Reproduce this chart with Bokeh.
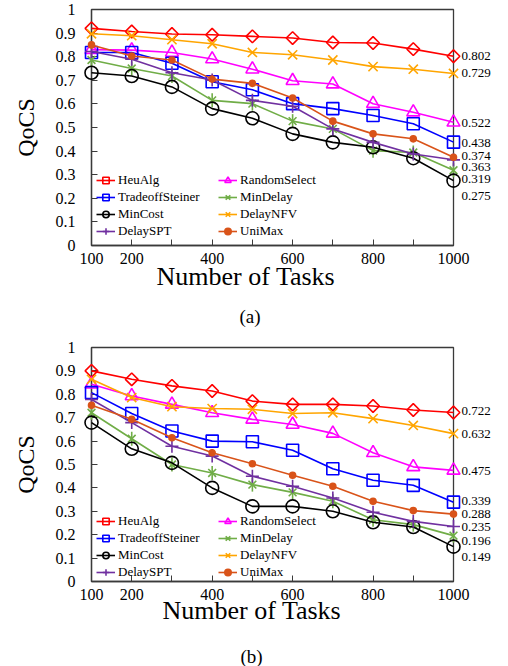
import math
from bokeh.plotting import figure
from bokeh.models import (Range1d, LinearAxis, FixedTicker, Legend, LegendItem, Title)
from bokeh.layouts import column
from bokeh.embed import file_html
from bokeh.resources import INLINE

# ---------------- data ----------------
tasks = [100, 200, 300, 400, 500, 600, 700, 800, 900, 1000]
x_tick_labels = ["100", "200", "", "400", "", "600", "", "800", "", "1000"]
y_ticks = [0, 0.1, 0.2, 0.3, 0.4, 0.5, 0.6, 0.7, 0.8, 0.9, 1]
y_tick_labels = ["0", "0.1", "0.2", "0.3", "0.4", "0.5", "0.6", "0.7", "0.8", "0.9", "1"]

algorithms = ["HeuAlg", "RandomSelect", "TradeoffSteiner", "MinDelay",
              "MinCost", "DelayNFV", "DelaySPT", "UniMax"]

# (a)
heu_a = [0.920, 0.907, 0.896, 0.893, 0.886, 0.879, 0.860, 0.858, 0.832, 0.802]
rand_a = [0.830, 0.828, 0.818, 0.790, 0.747, 0.698, 0.684, 0.601, 0.565, 0.522]
trade_a = [0.818, 0.818, 0.772, 0.694, 0.660, 0.601, 0.580, 0.551, 0.516, 0.438]
mindelay_a = [0.786, 0.750, 0.718, 0.615, 0.601, 0.527, 0.494, 0.402, 0.394, 0.319]
mincost_a = [0.732, 0.718, 0.672, 0.580, 0.539, 0.473, 0.437, 0.416, 0.370, 0.275]
nfv_a = [0.897, 0.889, 0.872, 0.855, 0.818, 0.808, 0.786, 0.758, 0.747, 0.729]
spt_a = [0.822, 0.789, 0.732, 0.701, 0.615, 0.590, 0.494, 0.437, 0.388, 0.363]
unimax_a = [0.850, 0.803, 0.786, 0.705, 0.687, 0.625, 0.527, 0.473, 0.452, 0.374]

# (b)
heu_b = [0.900, 0.864, 0.836, 0.814, 0.771, 0.757, 0.757, 0.750, 0.733, 0.722]
rand_b = [0.843, 0.793, 0.757, 0.721, 0.693, 0.671, 0.633, 0.550, 0.490, 0.475]
trade_b = [0.807, 0.718, 0.643, 0.600, 0.597, 0.561, 0.482, 0.433, 0.411, 0.339]
mindelay_b = [0.721, 0.610, 0.500, 0.464, 0.414, 0.381, 0.343, 0.264, 0.243, 0.196]
mincost_b = [0.679, 0.567, 0.507, 0.400, 0.321, 0.321, 0.300, 0.253, 0.233, 0.149]
nfv_b = [0.864, 0.786, 0.747, 0.739, 0.736, 0.718, 0.721, 0.696, 0.667, 0.632]
spt_b = [0.778, 0.679, 0.578, 0.536, 0.450, 0.407, 0.357, 0.296, 0.257, 0.235]
unimax_b = [0.753, 0.693, 0.614, 0.550, 0.503, 0.454, 0.407, 0.343, 0.303, 0.288]

# end-value annotations: which series, and small vertical nudges (px, up) to avoid overlap
end_label_order = ["HeuAlg", "DelayNFV", "RandomSelect", "TradeoffSteiner",
                   "UniMax", "DelaySPT", "MinDelay", "MinCost"]
end_nudge_a = [0, 0, -1, -1, 1.5, -7.5, -9, -15]
end_nudge_b = [2, 0, -1, 1, 0, 0, -5, -10]

# ---------------- styles ----------------
FONT = "Liberation Serif"
# each algorithm: colour and a list of (marker, size, angle, filled) layers
styles = {
    "HeuAlg":          ("#FF0000", [("square", 9, math.pi / 4, False)]),
    "RandomSelect":    ("#FF00FF", [("triangle", 13, 0, False)]),
    "TradeoffSteiner": ("#0000FF", [("square", 12, 0, False)]),
    "MinDelay":        ("#70AD47", [("x", 11, 0, False), ("dash", 14, math.pi / 2, False)]),
    "MinCost":         ("#000000", [("circle", 13, 0, False)]),
    "DelayNFV":        ("#FFA500", [("x", 13, 0, False)]),
    "DelaySPT":        ("#7030A0", [("cross", 13, 0, False)]),
    "UniMax":          ("#D95319", [("circle", 6, 0, True)]),
}
AXIS_COLOR = "#3a3a3a"
FRAME_H = 235


def make_chart(series, nudges, caption, top_border, bottom_border,
               left_border, right_border, title_off, gap, cap_off, legend_y):
    p = figure(width=508, height=333, output_backend="svg", toolbar_location=None,
               x_range=Range1d(tasks[0], tasks[-1]), y_range=Range1d(0, 1),
               min_border_left=left_border, min_border_right=right_border,
               min_border_top=top_border, min_border_bottom=bottom_border,
               x_axis_type=None, y_axis_type=None)
    p.outline_line_color = AXIS_COLOR
    p.outline_line_width = 1.3
    p.background_fill_color = "white"
    p.border_fill_color = "white"

    # axes
    xaxis = LinearAxis(ticker=FixedTicker(ticks=tasks),
                       major_label_overrides=dict(zip(tasks, x_tick_labels)))
    yaxis = LinearAxis(ticker=FixedTicker(ticks=y_ticks),
                       major_label_overrides=dict(zip(y_ticks, y_tick_labels)),
                       axis_label="QoCS")
    for ax in (xaxis, yaxis):
        ax.axis_line_color = AXIS_COLOR
        ax.axis_line_width = 1.3
        ax.major_tick_line_color = AXIS_COLOR
        ax.major_tick_in = 6
        ax.major_tick_out = 0
        ax.minor_tick_line_color = None
        ax.major_label_text_font = FONT
        ax.major_label_text_color = "black"
    xaxis.major_label_text_font_size = "16px"
    xaxis.major_label_standoff = 7
    yaxis.major_label_text_font_size = "16px"
    yaxis.major_label_standoff = 16
    yaxis.axis_label_text_font = FONT
    yaxis.axis_label_text_font_size = "24px"
    yaxis.axis_label_text_font_style = "normal"
    yaxis.axis_label_text_color = "black"
    yaxis.axis_label_standoff = 14
    p.add_layout(xaxis, "below")
    p.add_layout(yaxis, "left")

    # end-value labels as a right-hand axis (labels only)
    ends = [series[n][-1] for n in end_label_order]
    pos = [v + d / FRAME_H for v, d in zip(ends, nudges)]
    raxis = LinearAxis(ticker=FixedTicker(ticks=pos),
                       major_label_overrides={t: "%.3f" % v for t, v in zip(pos, ends)})
    raxis.axis_line_color = None
    raxis.major_tick_line_color = None
    raxis.minor_tick_line_color = None
    raxis.major_tick_out = 0
    raxis.major_tick_in = 0
    raxis.major_label_standoff = 8
    raxis.major_label_text_font = FONT
    raxis.major_label_text_font_size = "13px"
    raxis.major_label_text_color = "black"
    p.add_layout(raxis, "right")

    # x-axis title, an empty spacer and the caption, stacked below the axis
    t1 = Title(text="Number of Tasks", align="left", offset=title_off[0], standoff=title_off[1],
               text_font=FONT, text_font_size="26px", text_font_style="normal",
               text_color="black")
    spacer = Title(text=" ", standoff=gap, text_font_size="1px")
    t2 = Title(text=caption, align="left", offset=cap_off, standoff=0,
               text_font=FONT, text_font_size="19px", text_font_style="normal",
               text_color="black")
    p.add_layout(t1, "below")
    p.add_layout(spacer, "below")
    p.add_layout(t2, "below")

    # series (drawn on the overlay level so edge markers are not cut by the frame)
    items = {}
    for name in algorithms:
        color, layers = styles[name]
        ys = series[name]
        rs = [p.line(tasks, ys, line_color=color, line_width=1.6, level="overlay")]
        for marker, size, angle, filled in layers:
            rs.append(p.scatter(tasks, ys, marker=marker, size=size, angle=angle,
                                line_color=color, line_width=1.6, level="overlay",
                                fill_color=color if filled else None))
        items[name] = LegendItem(label=name, renderers=rs)

    # legends (two columns)
    col1 = ["HeuAlg", "TradeoffSteiner", "MinCost", "DelaySPT"]
    col2 = ["RandomSelect", "MinDelay", "DelayNFV", "UniMax"]
    for names, lx in ((col1, 5), (col2, 127)):
        lg = Legend(items=[items[n] for n in names], location=(lx, legend_y),
                    orientation="vertical", padding=0, margin=0, spacing=1,
                    glyph_width=19, glyph_height=16, label_height=16,
                    label_standoff=3, label_text_font=FONT, label_text_font_size="13px",
                    label_text_color="black", background_fill_alpha=0,
                    border_line_color=None)
        p.add_layout(lg)
    return p


series_a = dict(zip(algorithms, [heu_a, rand_a, trade_a, mindelay_a, mincost_a, nfv_a, spt_a, unimax_a]))
series_b = dict(zip(algorithms, [heu_b, rand_b, trade_b, mindelay_b, mincost_b, nfv_b, spt_b, unimax_b]))

p1 = make_chart(series_a, end_nudge_a, "(a)", top_border=9, bottom_border=88,
                left_border=91, right_border=55,
                title_off=(65, -13), gap=16, cap_off=148, legend_y=6)
p2 = make_chart(series_b, end_nudge_b, "(b)", top_border=14, bottom_border=84,
                left_border=91, right_border=53,
                title_off=(71, -17), gap=24, cap_off=149, legend_y=1)

layout = column(p1, p2, spacing=0)
open("out.html", "w").write(file_html(layout, INLINE))
